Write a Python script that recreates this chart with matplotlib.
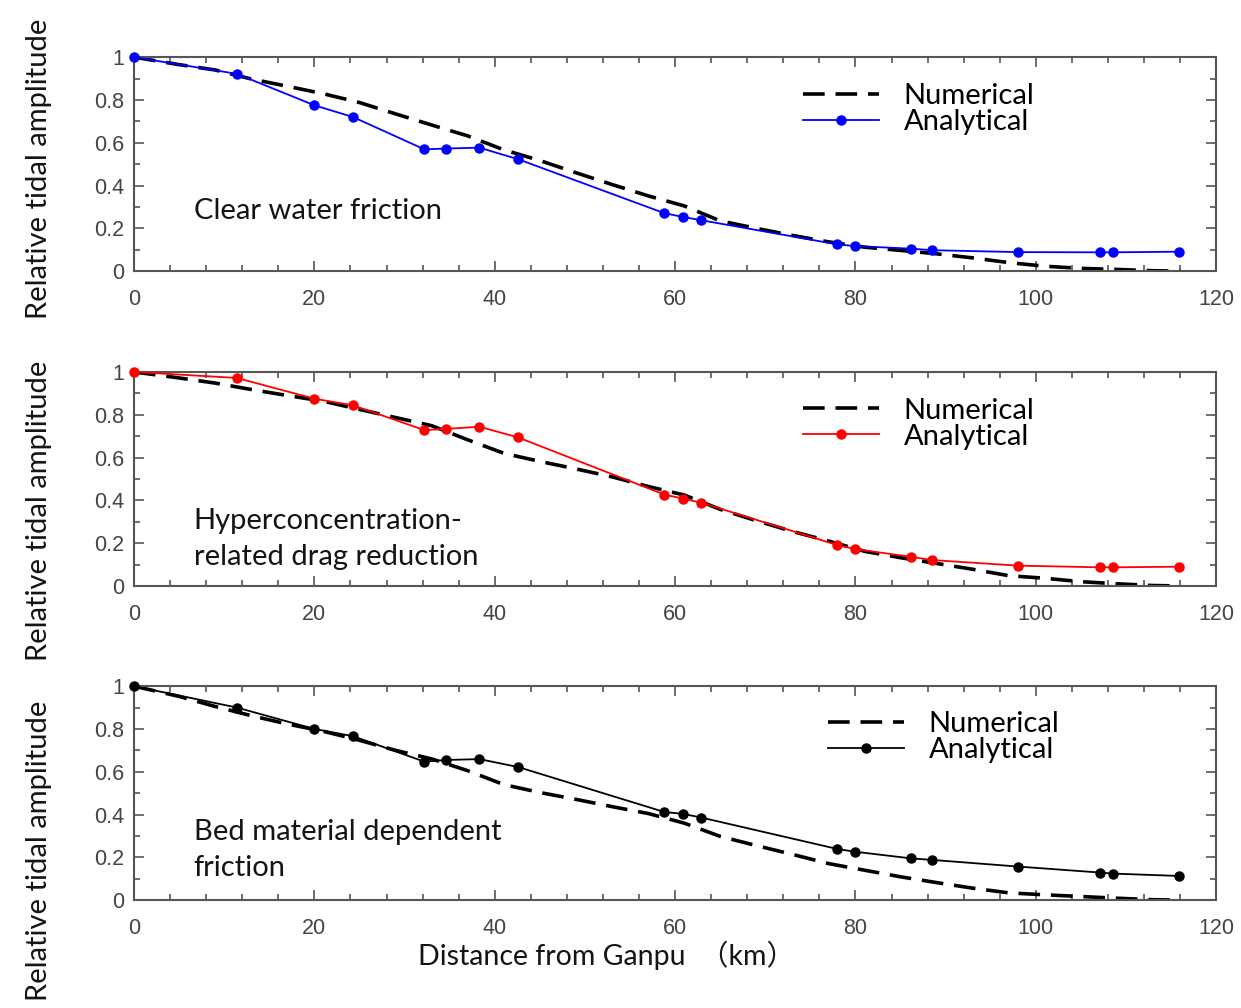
import matplotlib
matplotlib.use('Agg')
import matplotlib.pyplot as plt
from matplotlib.ticker import MultipleLocator, FuncFormatter

# stations along the estuary (km from Ganpu)
stations = [0, 11.4, 20.0, 24.3, 32.2, 34.6, 38.3, 42.6, 58.8, 60.9, 62.9,
            78.0, 80.0, 86.2, 88.5, 98.0, 107.1, 108.6, 115.9]

# analytical results
ana_clear = [1.0, 0.922, 0.775, 0.72, 0.569, 0.573, 0.577, 0.523, 0.271, 0.253, 0.238,
             0.125, 0.117, 0.105, 0.098, 0.089, 0.088, 0.088, 0.091]
ana_hyper = [1.0, 0.972, 0.875, 0.844, 0.728, 0.734, 0.744, 0.694, 0.427, 0.408, 0.389,
             0.191, 0.172, 0.136, 0.121, 0.095, 0.087, 0.087, 0.09]
ana_bed = [1.0, 0.9, 0.8, 0.766, 0.647, 0.655, 0.659, 0.622, 0.412, 0.403, 0.386,
           0.239, 0.226, 0.195, 0.188, 0.157, 0.129, 0.124, 0.113]

# numerical results
num_x = [0, 5, 9, 13, 17, 21, 25, 29, 33, 37, 41, 45, 49, 53, 57, 61, 65, 69, 73, 77,
         81, 85, 89, 93, 97, 101, 105, 109, 113, 116]
num_clear = [1.0, 0.965, 0.94, 0.898, 0.864, 0.829, 0.788, 0.735, 0.683, 0.632, 0.567,
             0.517, 0.46, 0.405, 0.352, 0.305, 0.235, 0.2, 0.167, 0.137, 0.112, 0.097,
             0.081, 0.062, 0.04, 0.023, 0.013, 0.008, 0.002, 0.0]
num_hyper = [1.0, 0.972, 0.948, 0.918, 0.89, 0.863, 0.825, 0.787, 0.749, 0.683, 0.62,
             0.582, 0.547, 0.51, 0.465, 0.425, 0.358, 0.305, 0.255, 0.21, 0.162, 0.132,
             0.105, 0.078, 0.048, 0.036, 0.02, 0.01, 0.002, 0.0]
num_bed = [1.0, 0.952, 0.905, 0.862, 0.823, 0.789, 0.747, 0.70, 0.66, 0.605, 0.54,
           0.503, 0.471, 0.437, 0.405, 0.36, 0.298, 0.255, 0.214, 0.171, 0.14, 0.109,
           0.082, 0.056, 0.034, 0.025, 0.017, 0.009, 0.002, 0.0]

labels = ['Clear water friction',
          'Hyperconcentration-\nrelated drag reduction',
          'Bed material dependent\nfriction']
colors = ['#0000ff', '#ff0000', '#000000']

fig = plt.figure(figsize=(12.41, 10.08), dpi=100)
bottoms = [0.731, 0.4187, 0.107]
ylab_y = [0.48, 0.35, 0.229]
leg_pos = [(0.618, 0.88), (0.618, 0.88), (0.641, 0.885)]
txt_y = [0.28, 0.22, 0.235]

panels = [(ana_clear, num_clear), (ana_hyper, num_hyper), (ana_bed, num_bed)]
tick_color = '#444444'
text_font = ['Lato', 'DejaVu Sans']
text_color = '#141414'

for i, (ana, num) in enumerate(panels):
    ax = fig.add_axes([0.108, bottoms[i], 0.872, 0.2123])
    ax.plot(num_x, num, color='black', lw=2.6, linestyle=(0, (6, 3)),
            label='Numerical', zorder=2)
    ax.plot(stations, ana, color=colors[i], lw=1.3, marker='o', markersize=6.5,
            label='Analytical', zorder=3, clip_on=False)
    ax.set_xlim(0, 120)
    ax.set_ylim(0, 1)
    ax.xaxis.set_major_locator(MultipleLocator(20))
    ax.xaxis.set_minor_locator(MultipleLocator(4))
    ax.yaxis.set_major_locator(MultipleLocator(0.2))
    ax.yaxis.set_minor_locator(MultipleLocator(0.1))
    ax.yaxis.set_major_formatter(FuncFormatter(lambda v, p: '%g' % round(v, 1)))
    ax.tick_params(which='both', direction='in', top=True, right=True,
                   colors='#555555', labelcolor=tick_color, width=1.2)
    ax.tick_params(which='major', length=7, labelsize=15.5)
    ax.tick_params(axis='x', which='major', pad=13)
    ax.tick_params(axis='y', which='major', pad=7)
    ax.tick_params(which='minor', length=4)
    for lab in ax.get_xticklabels() + ax.get_yticklabels():
        lab.set_family('Liberation Sans')
    for s in ax.spines.values():
        s.set_color('#555555')
        s.set_linewidth(1.5)
    ax.set_ylabel('Relative tidal amplitude', fontsize=21, family=text_font,
                  color=text_color)
    ax.yaxis.set_label_coords(-0.076, ylab_y[i])
    ax.text(6.6, txt_y[i], labels[i], fontsize=21, family=text_font,
            color=text_color, va='center', ha='left', linespacing=1.5)
    ax.legend(loc='upper left', bbox_to_anchor=leg_pos[i], frameon=False,
              prop={'family': text_font, 'size': 21},
              handlelength=2.6, handletextpad=0.86, labelspacing=0.0,
              borderpad=0, borderaxespad=0)
    if i == 2:
        ax.set_xlabel('Distance from Ganpu  （km）', fontsize=20.5,
                      family=['Lato', 'Noto Sans CJK SC'], color=text_color)
        ax.xaxis.set_label_coords(0.437, -0.19)

fig.savefig('out.png', dpi=100)
